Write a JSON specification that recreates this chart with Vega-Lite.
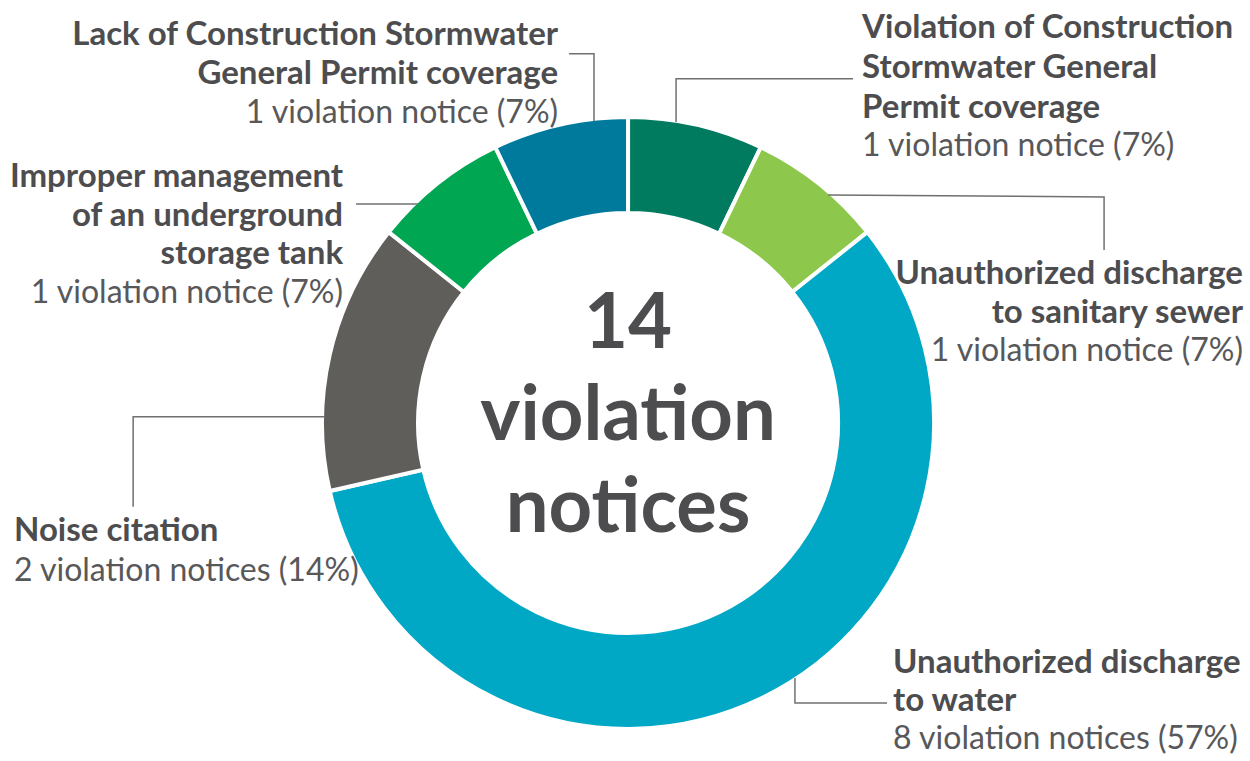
{
  "$schema": "https://vega.github.io/schema/vega-lite/v6.json",
  "width": 1250,
  "height": 761,
  "autosize": {"type": "fit", "contains": "padding"},
  "padding": 0,
  "background": "white",
  "config": {"view": {"stroke": null}},
  "datasets": {
    "slices": [
      {"category": "Violation of Construction Stormwater General Permit coverage", "count": 1, "order": 1},
      {"category": "Unauthorized discharge to sanitary sewer", "count": 1, "order": 2},
      {"category": "Unauthorized discharge to water", "count": 8, "order": 3},
      {"category": "Noise citation", "count": 2, "order": 4},
      {"category": "Improper management of an underground storage tank", "count": 1, "order": 5},
      {"category": "Lack of Construction Stormwater General Permit coverage", "count": 1, "order": 6}
    ],
    "labels": [
      {"block": "lack", "kind": "title", "side": "right", "line": "Lack of Construction Stormwater", "x": -23.0, "y": 124.4},
      {"block": "lack", "kind": "title", "side": "right", "line": "General Permit coverage", "x": -23.0, "y": 111.5},
      {"block": "lack", "kind": "count", "side": "right", "line": "1 violation notice (7%)", "x": -23.0, "y": 98.7},
      {"block": "violation", "kind": "title", "side": "left", "line": "Violation of Construction", "x": 77.0, "y": 126.7},
      {"block": "violation", "kind": "title", "side": "left", "line": "Stormwater General", "x": 77.0, "y": 113.5},
      {"block": "violation", "kind": "title", "side": "left", "line": "Permit coverage", "x": 77.0, "y": 100.4},
      {"block": "violation", "kind": "count", "side": "left", "line": "1 violation notice (7%)", "x": 77.0, "y": 87.9},
      {"block": "sanitary", "kind": "title", "side": "right", "line": "Unauthorized discharge", "x": 202.3, "y": 45.8},
      {"block": "sanitary", "kind": "title", "side": "right", "line": "to sanitary sewer", "x": 202.3, "y": 32.9},
      {"block": "sanitary", "kind": "count", "side": "right", "line": "1 violation notice (7%)", "x": 202.3, "y": 20.4},
      {"block": "water", "kind": "title", "side": "left", "line": "Unauthorized discharge", "x": 87.2, "y": -82.2},
      {"block": "water", "kind": "title", "side": "left", "line": "to water", "x": 87.2, "y": -94.7},
      {"block": "water", "kind": "count", "side": "left", "line": "8 violation notices (57%)", "x": 87.2, "y": -107.2},
      {"block": "noise", "kind": "title", "side": "left", "line": "Noise citation", "x": -202.0, "y": -38.8},
      {"block": "noise", "kind": "count", "side": "left", "line": "2 violation notices (14%)", "x": -202.0, "y": -51.9},
      {"block": "improper", "kind": "title", "side": "right", "line": "Improper management", "x": -93.75, "y": 77.7},
      {"block": "improper", "kind": "title", "side": "right", "line": "of an underground", "x": -93.75, "y": 64.8},
      {"block": "improper", "kind": "title", "side": "right", "line": "storage tank", "x": -93.75, "y": 52.3},
      {"block": "improper", "kind": "count", "side": "right", "line": "1 violation notice (7%)", "x": -93.75, "y": 39.5}
    ],
    "leaders": [
      {"block": "lack", "step": 1, "x": -19.4, "y": 121.4},
      {"block": "lack", "step": 2, "x": -11.2, "y": 121.4},
      {"block": "lack", "step": 3, "x": -11.2, "y": 99.3},
      {"block": "violation", "step": 1, "x": 15.8, "y": 99.0},
      {"block": "violation", "step": 2, "x": 15.8, "y": 113.2},
      {"block": "violation", "step": 3, "x": 74.0, "y": 113.2},
      {"block": "sanitary", "step": 1, "x": 65.8, "y": 75.0},
      {"block": "sanitary", "step": 2, "x": 156.6, "y": 74.3},
      {"block": "sanitary", "step": 3, "x": 156.6, "y": 56.9},
      {"block": "water", "step": 1, "x": 54.9, "y": -83.9},
      {"block": "water", "step": 2, "x": 54.9, "y": -92.1},
      {"block": "water", "step": 3, "x": 85.2, "y": -92.1},
      {"block": "noise", "step": 1, "x": -162.8, "y": -27.6},
      {"block": "noise", "step": 2, "x": -162.8, "y": 2.0},
      {"block": "noise", "step": 3, "x": -99.7, "y": 2.0},
      {"block": "improper", "step": 1, "x": -89.5, "y": 72.0},
      {"block": "improper", "step": 2, "x": -69.1, "y": 72.0}
    ],
    "center": [
      {"line": "14", "y": 24.7},
      {"line": "violation", "y": -5.6},
      {"line": "notices", "y": -35.9}
    ]
  },
  "layer": [
    {
      "data": {"name": "slices"},
      "mark": {"type": "arc", "outerRadius": 306, "innerRadius": 210, "stroke": "white", "strokeWidth": 4},
      "encoding": {
        "x": {"datum": 0, "type": "quantitative", "scale": {"domain": [-206.6, 204.6], "nice": false, "zero": false}, "axis": null},
        "y": {"datum": 0, "type": "quantitative", "scale": {"domain": [-111.2, 139.1], "nice": false, "zero": false}, "axis": null},
        "theta": {"field": "count", "type": "quantitative", "stack": true},
        "order": {"field": "order", "type": "quantitative"},
        "color": {
          "field": "category", "type": "nominal", "legend": null,
          "scale": {
            "domain": [
              "Violation of Construction Stormwater General Permit coverage",
              "Unauthorized discharge to sanitary sewer",
              "Unauthorized discharge to water",
              "Noise citation",
              "Improper management of an underground storage tank",
              "Lack of Construction Stormwater General Permit coverage"
            ],
            "range": ["#007b5f", "#8dc84c", "#00a8c6", "#5f5e5a", "#00a651", "#007a9c"]
          }
        }
      }
    },
    {
      "data": {"name": "leaders"},
      "mark": {"type": "line", "color": "#707070", "strokeWidth": 1.5, "interpolate": "linear"},
      "encoding": {
        "x": {"field": "x", "type": "quantitative"},
        "y": {"field": "y", "type": "quantitative"},
        "detail": {"field": "block", "type": "nominal"},
        "order": {"field": "step", "type": "quantitative"}
      }
    },
    {
      "data": {"name": "labels"},
      "transform": [{"filter": "datum.kind === 'title' && datum.side === 'left'"}],
      "mark": {"type": "text", "font": "Lato", "fontWeight": "bold", "fontSize": 33, "align": "left", "baseline": "alphabetic", "color": "#4d4d4f"},
      "encoding": {
        "x": {"field": "x", "type": "quantitative"},
        "y": {"field": "y", "type": "quantitative"},
        "text": {"field": "line", "type": "nominal"}
      }
    },
    {
      "data": {"name": "labels"},
      "transform": [{"filter": "datum.kind === 'title' && datum.side === 'right'"}],
      "mark": {"type": "text", "font": "Lato", "fontWeight": "bold", "fontSize": 33, "align": "right", "baseline": "alphabetic", "color": "#4d4d4f"},
      "encoding": {
        "x": {"field": "x", "type": "quantitative"},
        "y": {"field": "y", "type": "quantitative"},
        "text": {"field": "line", "type": "nominal"}
      }
    },
    {
      "data": {"name": "labels"},
      "transform": [{"filter": "datum.kind === 'count' && datum.side === 'left'"}],
      "mark": {"type": "text", "font": "Lato", "fontWeight": "normal", "fontSize": 32, "align": "left", "baseline": "alphabetic", "color": "#58585a"},
      "encoding": {
        "x": {"field": "x", "type": "quantitative"},
        "y": {"field": "y", "type": "quantitative"},
        "text": {"field": "line", "type": "nominal"}
      }
    },
    {
      "data": {"name": "labels"},
      "transform": [{"filter": "datum.kind === 'count' && datum.side === 'right'"}],
      "mark": {"type": "text", "font": "Lato", "fontWeight": "normal", "fontSize": 32, "align": "right", "baseline": "alphabetic", "color": "#58585a"},
      "encoding": {
        "x": {"field": "x", "type": "quantitative"},
        "y": {"field": "y", "type": "quantitative"},
        "text": {"field": "line", "type": "nominal"}
      }
    },
    {
      "data": {"name": "center"},
      "mark": {"type": "text", "font": "Lato", "fontWeight": "bold", "fontSize": 76, "align": "center", "baseline": "alphabetic", "color": "#4d4d4f"},
      "encoding": {
        "x": {"datum": 0, "type": "quantitative"},
        "y": {"field": "y", "type": "quantitative"},
        "text": {"field": "line", "type": "nominal"}
      }
    }
  ]
}
